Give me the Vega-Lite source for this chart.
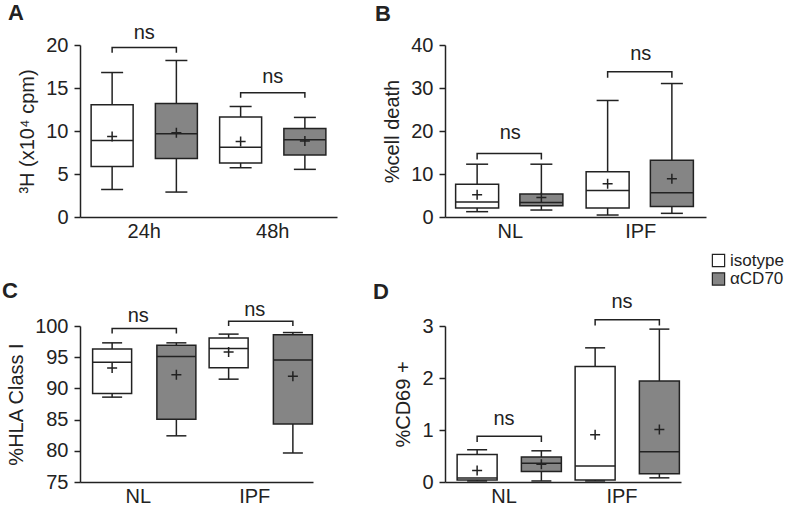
{
  "$schema": "https://vega.github.io/schema/vega-lite/v6.json",
  "padding": {"left": 2, "top": 2, "right": 0, "bottom": 0},
  "background": "white",
  "config": {
    "view": {"stroke": null},
    "font": "Liberation Sans",
    "axis": {"domainColor": "#222222", "domainWidth": 1.5, "tickColor": "#222222", "tickWidth": 1.5, "labelFont": "Liberation Sans", "labelFontSize": 20, "labelColor": "#222222", "titleFont": "Liberation Sans", "titleFontSize": 20, "titleFontWeight": "normal", "titleColor": "#222222", "grid": false, "labelOverlap": false},
    "axisX": {"ticks": false, "labelAngle": 0, "labelPadding": 4, "title": null},
    "axisY": {"tickSize": 6, "labelPadding": 6, "titlePadding": 8, "labelOverlap": false},
    "title": {"anchor": "start", "frame": "group", "fontSize": 22, "fontWeight": "bold", "font": "Liberation Sans", "color": "#222222"},
    "text": {"font": "Liberation Sans", "fontSize": 20, "color": "#222222"}
  },
  "datasets": {
    "boxA": [
      {"cat": "24h", "grp": "isotype", "min": 3.2, "q1": 5.88, "med": 8.9, "q3": 13.06, "max": 16.8, "mean": 9.36},
      {"cat": "24h", "grp": "αCD70", "min": 2.9, "q1": 6.8, "med": 9.67, "q3": 13.2, "max": 18.2, "mean": 9.8},
      {"cat": "48h", "grp": "isotype", "min": 5.73, "q1": 6.28, "med": 8.11, "q3": 11.64, "max": 12.85, "mean": 8.78},
      {"cat": "48h", "grp": "αCD70", "min": 5.54, "q1": 7.21, "med": 8.97, "q3": 10.29, "max": 11.58, "mean": 8.85}
    ],
    "brA": [
      {"cat": "24h", "grp": "isotype", "ord": 1, "y": 19.1},
      {"cat": "24h", "grp": "isotype", "ord": 2, "y": 19.7},
      {"cat": "24h", "grp": "αCD70", "ord": 3, "y": 19.7},
      {"cat": "24h", "grp": "αCD70", "ord": 4, "y": 19.1},
      {"cat": "48h", "grp": "isotype", "ord": 1, "y": 13.87},
      {"cat": "48h", "grp": "isotype", "ord": 2, "y": 14.45},
      {"cat": "48h", "grp": "αCD70", "ord": 3, "y": 14.45},
      {"cat": "48h", "grp": "αCD70", "ord": 4, "y": 13.87}
    ],
    "nsA": [{"cat": "24h", "y": 21.4, "label": "ns"}, {"cat": "48h", "y": 16.3, "label": "ns"}],
    "boxB": [
      {"cat": "NL", "grp": "isotype", "min": 1.24, "q1": 2.08, "med": 3.47, "q3": 7.64, "max": 12.28, "mean": 5.17},
      {"cat": "NL", "grp": "αCD70", "min": 1.62, "q1": 2.63, "med": 3.4, "q3": 5.33, "max": 12.28, "mean": 4.56},
      {"cat": "IPF", "grp": "isotype", "min": 0.46, "q1": 2.08, "med": 6.18, "q3": 10.5, "max": 27.1, "mean": 7.72},
      {"cat": "IPF", "grp": "αCD70", "min": 0.85, "q1": 2.47, "med": 5.64, "q3": 13.2, "max": 31.04, "mean": 8.88}
    ],
    "brB": [
      {"cat": "NL", "grp": "isotype", "ord": 1, "y": 13.36},
      {"cat": "NL", "grp": "isotype", "ord": 2, "y": 14.75},
      {"cat": "NL", "grp": "αCD70", "ord": 3, "y": 14.75},
      {"cat": "NL", "grp": "αCD70", "ord": 4, "y": 13.36},
      {"cat": "IPF", "grp": "isotype", "ord": 1, "y": 32.4},
      {"cat": "IPF", "grp": "isotype", "ord": 2, "y": 33.8},
      {"cat": "IPF", "grp": "αCD70", "ord": 3, "y": 33.8},
      {"cat": "IPF", "grp": "αCD70", "ord": 4, "y": 32.4}
    ],
    "nsB": [{"cat": "NL", "y": 19.5, "label": "ns"}, {"cat": "IPF", "y": 38, "label": "ns"}],
    "boxC": [
      {"cat": "NL", "grp": "isotype", "min": 88.6, "q1": 89.2, "med": 94.2, "q3": 96.33, "max": 97.3, "mean": 93.25},
      {"cat": "NL", "grp": "αCD70", "min": 82.4, "q1": 85.04, "med": 95.1, "q3": 96.9, "max": 97.3, "mean": 92.2},
      {"cat": "IPF", "grp": "isotype", "min": 91.48, "q1": 93.3, "med": 96.4, "q3": 98.06, "max": 98.7, "mean": 95.85},
      {"cat": "IPF", "grp": "αCD70", "min": 79.65, "q1": 84.3, "med": 94.56, "q3": 98.6, "max": 98.95, "mean": 91.95}
    ],
    "brC": [
      {"cat": "NL", "grp": "isotype", "ord": 1, "y": 98.8},
      {"cat": "NL", "grp": "isotype", "ord": 2, "y": 99.6},
      {"cat": "NL", "grp": "αCD70", "ord": 3, "y": 99.6},
      {"cat": "NL", "grp": "αCD70", "ord": 4, "y": 98.8},
      {"cat": "IPF", "grp": "isotype", "ord": 1, "y": 100.0},
      {"cat": "IPF", "grp": "isotype", "ord": 2, "y": 100.77},
      {"cat": "IPF", "grp": "αCD70", "ord": 3, "y": 100.77},
      {"cat": "IPF", "grp": "αCD70", "ord": 4, "y": 100.0}
    ],
    "nsC": [{"cat": "NL", "y": 101.6, "label": "ns"}, {"cat": "IPF", "y": 102.6, "label": "ns"}],
    "boxD": [
      {"cat": "NL", "grp": "isotype", "min": 0.02, "q1": 0.04, "med": 0.077, "q3": 0.53, "max": 0.62, "mean": 0.22},
      {"cat": "NL", "grp": "αCD70", "min": 0.02, "q1": 0.2, "med": 0.36, "q3": 0.48, "max": 0.6, "mean": 0.34},
      {"cat": "IPF", "grp": "isotype", "min": 0.02, "q1": 0.04, "med": 0.31, "q3": 2.22, "max": 2.58, "mean": 0.91},
      {"cat": "IPF", "grp": "αCD70", "min": 0.08, "q1": 0.16, "med": 0.58, "q3": 1.94, "max": 2.94, "mean": 1.01}
    ],
    "brD": [
      {"cat": "NL", "grp": "isotype", "ord": 1, "y": 0.77},
      {"cat": "NL", "grp": "isotype", "ord": 2, "y": 0.88},
      {"cat": "NL", "grp": "αCD70", "ord": 3, "y": 0.88},
      {"cat": "NL", "grp": "αCD70", "ord": 4, "y": 0.77},
      {"cat": "IPF", "grp": "isotype", "ord": 1, "y": 3.01},
      {"cat": "IPF", "grp": "isotype", "ord": 2, "y": 3.12},
      {"cat": "IPF", "grp": "αCD70", "ord": 3, "y": 3.12},
      {"cat": "IPF", "grp": "αCD70", "ord": 4, "y": 3.01}
    ],
    "nsD": [{"cat": "NL", "y": 1.22, "label": "ns"}, {"cat": "IPF", "y": 3.46, "label": "ns"}]
  },
  "columns": 2,
  "bounds": "flush",
  "align": "each",
  "spacing": {"row": 109, "column": 108},
  "concat": [
    {
      "width": 257, "height": 172,
      "title": {"text": "A", "dx": -72, "offset": -2.5},
      "encoding": {"x": {"field": "cat", "type": "nominal", "sort": ["24h", "48h"], "scale": {"paddingInner": 0, "paddingOuter": 0}}},
      "layer": [
        {"data": {"name": "boxA"}, "mark": {"type": "rule", "color": "#222222", "strokeWidth": 1.5},
          "encoding": {"xOffset": {"field": "grp", "type": "nominal", "sort": ["isotype", "αCD70"], "scale": {"paddingInner": 0, "paddingOuter": 0}},
            "y": {"field": "min", "type": "quantitative", "title": "³H (x10⁴ cpm)", "scale": {"domain": [0, 20], "nice": false}, "axis": {"values": [0, 5, 10, 15, 20], "labelOverlap": false}},
            "y2": {"field": "max"}}},
        {"data": {"name": "boxA"}, "mark": {"type": "bar", "width": 42, "stroke": "#222222", "strokeWidth": 1.5},
          "encoding": {"xOffset": {"field": "grp", "type": "nominal", "sort": ["isotype", "αCD70"]},
            "y": {"field": "q1", "type": "quantitative", "title": "³H (x10⁴ cpm)"}, "y2": {"field": "q3"},
            "fill": {"field": "grp", "type": "nominal", "scale": {"domain": ["isotype", "αCD70"], "range": ["#ffffff", "#858585"]}, "legend": {"title": null, "orient": "none", "legendX": 630, "legendY": 207, "symbolType": "square", "symbolSize": 150, "symbolStrokeColor": "#222222", "symbolStrokeWidth": 1.2, "labelFontSize": 17, "labelFont": "Liberation Sans", "labelColor": "#222222", "rowPadding": -0.5, "labelOffset": 3}}}},
        {"data": {"name": "boxA"}, "mark": {"type": "tick", "size": 42, "thickness": 1.5, "color": "#222222", "opacity": 1},
          "encoding": {"xOffset": {"field": "grp", "type": "nominal", "sort": ["isotype", "αCD70"]}, "y": {"field": "med", "type": "quantitative", "title": "³H (x10⁴ cpm)"}}},
        {"data": {"name": "boxA"}, "mark": {"type": "tick", "size": 22, "thickness": 1.5, "color": "#222222", "opacity": 1},
          "encoding": {"xOffset": {"field": "grp", "type": "nominal", "sort": ["isotype", "αCD70"]}, "y": {"field": "min", "type": "quantitative", "title": "³H (x10⁴ cpm)"}}},
        {"data": {"name": "boxA"}, "mark": {"type": "tick", "size": 22, "thickness": 1.5, "color": "#222222", "opacity": 1},
          "encoding": {"xOffset": {"field": "grp", "type": "nominal", "sort": ["isotype", "αCD70"]}, "y": {"field": "max", "type": "quantitative", "title": "³H (x10⁴ cpm)"}}},
        {"data": {"name": "boxA"}, "mark": {"type": "point", "shape": "M-1,0L1,0M0,-1L0,1", "size": 100, "filled": false, "stroke": "#222222", "strokeWidth": 1.5, "opacity": 1},
          "encoding": {"xOffset": {"field": "grp", "type": "nominal", "sort": ["isotype", "αCD70"]}, "y": {"field": "mean", "type": "quantitative", "title": "³H (x10⁴ cpm)"}}},
        {"data": {"name": "brA"}, "mark": {"type": "line", "color": "#222222", "strokeWidth": 1.5},
          "encoding": {"xOffset": {"field": "grp", "type": "nominal", "sort": ["isotype", "αCD70"]}, "y": {"field": "y", "type": "quantitative", "title": "³H (x10⁴ cpm)"}, "detail": {"field": "cat"}, "order": {"field": "ord"}}},
        {"data": {"name": "nsA"}, "mark": {"type": "text", "baseline": "middle"},
          "encoding": {"y": {"field": "y", "type": "quantitative", "title": "³H (x10⁴ cpm)"}, "text": {"field": "label"}}}
      ]
    },
    {
      "width": 261, "height": 172,
      "title": {"text": "B", "dx": -70, "offset": 9},
      "encoding": {"x": {"field": "cat", "type": "nominal", "sort": ["NL", "IPF"], "scale": {"paddingInner": 0, "paddingOuter": 0}}},
      "layer": [
        {"data": {"name": "boxB"}, "mark": {"type": "rule", "color": "#222222", "strokeWidth": 1.5},
          "encoding": {"xOffset": {"field": "grp", "type": "nominal", "sort": ["isotype", "αCD70"], "scale": {"paddingInner": 0, "paddingOuter": 0}},
            "y": {"field": "min", "type": "quantitative", "title": "%cell death", "scale": {"domain": [0, 40], "nice": false}, "axis": {"values": [0, 10, 20, 30, 40], "labelOverlap": false}},
            "y2": {"field": "max"}}},
        {"data": {"name": "boxB"}, "mark": {"type": "bar", "width": 43, "stroke": "#222222", "strokeWidth": 1.5},
          "encoding": {"xOffset": {"field": "grp", "type": "nominal", "sort": ["isotype", "αCD70"]},
            "y": {"field": "q1", "type": "quantitative", "title": "%cell death"}, "y2": {"field": "q3"},
            "fill": {"field": "grp", "type": "nominal", "scale": {"domain": ["isotype", "αCD70"], "range": ["#ffffff", "#858585"]}, "legend": {"title": null, "orient": "none", "legendX": 630, "legendY": 207, "symbolType": "square", "symbolSize": 150, "symbolStrokeColor": "#222222", "symbolStrokeWidth": 1.2, "labelFontSize": 17, "labelFont": "Liberation Sans", "labelColor": "#222222", "rowPadding": -0.5, "labelOffset": 3}}}},
        {"data": {"name": "boxB"}, "mark": {"type": "tick", "size": 43, "thickness": 1.5, "color": "#222222", "opacity": 1},
          "encoding": {"xOffset": {"field": "grp", "type": "nominal", "sort": ["isotype", "αCD70"]}, "y": {"field": "med", "type": "quantitative", "title": "%cell death"}}},
        {"data": {"name": "boxB"}, "mark": {"type": "tick", "size": 22, "thickness": 1.5, "color": "#222222", "opacity": 1},
          "encoding": {"xOffset": {"field": "grp", "type": "nominal", "sort": ["isotype", "αCD70"]}, "y": {"field": "min", "type": "quantitative", "title": "%cell death"}}},
        {"data": {"name": "boxB"}, "mark": {"type": "tick", "size": 22, "thickness": 1.5, "color": "#222222", "opacity": 1},
          "encoding": {"xOffset": {"field": "grp", "type": "nominal", "sort": ["isotype", "αCD70"]}, "y": {"field": "max", "type": "quantitative", "title": "%cell death"}}},
        {"data": {"name": "boxB"}, "mark": {"type": "point", "shape": "M-1,0L1,0M0,-1L0,1", "size": 100, "filled": false, "stroke": "#222222", "strokeWidth": 1.5, "opacity": 1},
          "encoding": {"xOffset": {"field": "grp", "type": "nominal", "sort": ["isotype", "αCD70"]}, "y": {"field": "mean", "type": "quantitative", "title": "%cell death"}}},
        {"data": {"name": "brB"}, "mark": {"type": "line", "color": "#222222", "strokeWidth": 1.5},
          "encoding": {"xOffset": {"field": "grp", "type": "nominal", "sort": ["isotype", "αCD70"]}, "y": {"field": "y", "type": "quantitative", "title": "%cell death"}, "detail": {"field": "cat"}, "order": {"field": "ord"}}},
        {"data": {"name": "nsB"}, "mark": {"type": "text", "baseline": "middle"},
          "encoding": {"y": {"field": "y", "type": "quantitative", "title": "%cell death"}, "text": {"field": "label"}}}
      ]
    },
    {
      "width": 233, "height": 156,
      "title": {"text": "C", "dx": -78, "offset": -3},
      "encoding": {"x": {"field": "cat", "type": "nominal", "sort": ["NL", "IPF"], "scale": {"paddingInner": 0, "paddingOuter": 0}}},
      "layer": [
        {"data": {"name": "boxC"}, "mark": {"type": "rule", "color": "#222222", "strokeWidth": 1.5},
          "encoding": {"xOffset": {"field": "grp", "type": "nominal", "sort": ["isotype", "αCD70"], "scale": {"paddingInner": 0, "paddingOuter": 0}},
            "y": {"field": "min", "type": "quantitative", "title": "%HLA Class I", "scale": {"domain": [75, 100], "nice": false, "zero": false}, "axis": {"values": [75, 80, 85, 90, 95, 100], "labelOverlap": false, "tickCount": 6}},
            "y2": {"field": "max"}}},
        {"data": {"name": "boxC"}, "mark": {"type": "bar", "width": 39, "stroke": "#222222", "strokeWidth": 1.5},
          "encoding": {"xOffset": {"field": "grp", "type": "nominal", "sort": ["isotype", "αCD70"]},
            "y": {"field": "q1", "type": "quantitative", "title": "%HLA Class I"}, "y2": {"field": "q3"},
            "fill": {"field": "grp", "type": "nominal", "scale": {"domain": ["isotype", "αCD70"], "range": ["#ffffff", "#858585"]}, "legend": {"title": null, "orient": "none", "legendX": 630, "legendY": 207, "symbolType": "square", "symbolSize": 150, "symbolStrokeColor": "#222222", "symbolStrokeWidth": 1.2, "labelFontSize": 17, "labelFont": "Liberation Sans", "labelColor": "#222222", "rowPadding": -0.5, "labelOffset": 3}}}},
        {"data": {"name": "boxC"}, "mark": {"type": "tick", "size": 39, "thickness": 1.5, "color": "#222222", "opacity": 1},
          "encoding": {"xOffset": {"field": "grp", "type": "nominal", "sort": ["isotype", "αCD70"]}, "y": {"field": "med", "type": "quantitative", "title": "%HLA Class I"}}},
        {"data": {"name": "boxC"}, "mark": {"type": "tick", "size": 20, "thickness": 1.5, "color": "#222222", "opacity": 1},
          "encoding": {"xOffset": {"field": "grp", "type": "nominal", "sort": ["isotype", "αCD70"]}, "y": {"field": "min", "type": "quantitative", "title": "%HLA Class I"}}},
        {"data": {"name": "boxC"}, "mark": {"type": "tick", "size": 20, "thickness": 1.5, "color": "#222222", "opacity": 1},
          "encoding": {"xOffset": {"field": "grp", "type": "nominal", "sort": ["isotype", "αCD70"]}, "y": {"field": "max", "type": "quantitative", "title": "%HLA Class I"}}},
        {"data": {"name": "boxC"}, "mark": {"type": "point", "shape": "M-1,0L1,0M0,-1L0,1", "size": 100, "filled": false, "stroke": "#222222", "strokeWidth": 1.5, "opacity": 1},
          "encoding": {"xOffset": {"field": "grp", "type": "nominal", "sort": ["isotype", "αCD70"]}, "y": {"field": "mean", "type": "quantitative", "title": "%HLA Class I"}}},
        {"data": {"name": "brC"}, "mark": {"type": "line", "color": "#222222", "strokeWidth": 1.5},
          "encoding": {"xOffset": {"field": "grp", "type": "nominal", "sort": ["isotype", "αCD70"]}, "y": {"field": "y", "type": "quantitative", "title": "%HLA Class I"}, "detail": {"field": "cat"}, "order": {"field": "ord"}}},
        {"data": {"name": "nsC"}, "mark": {"type": "text", "baseline": "middle"},
          "encoding": {"y": {"field": "y", "type": "quantitative", "title": "%HLA Class I"}, "text": {"field": "label"}}}
      ]
    },
    {
      "width": 236, "height": 156,
      "title": {"text": "D", "dx": -72, "offset": -12},
      "encoding": {"x": {"field": "cat", "type": "nominal", "sort": ["NL", "IPF"], "scale": {"paddingInner": 0, "paddingOuter": 0}}},
      "layer": [
        {"data": {"name": "boxD"}, "mark": {"type": "rule", "color": "#222222", "strokeWidth": 1.5},
          "encoding": {"xOffset": {"field": "grp", "type": "nominal", "sort": ["isotype", "αCD70"], "scale": {"paddingInner": 0, "paddingOuter": 0}},
            "y": {"field": "min", "type": "quantitative", "title": "%CD69 +", "scale": {"domain": [0, 3], "nice": false}, "axis": {"values": [0, 1, 2, 3], "labelOverlap": false}},
            "y2": {"field": "max"}}},
        {"data": {"name": "boxD"}, "mark": {"type": "bar", "width": 40, "stroke": "#222222", "strokeWidth": 1.5},
          "encoding": {"xOffset": {"field": "grp", "type": "nominal", "sort": ["isotype", "αCD70"]},
            "y": {"field": "q1", "type": "quantitative", "title": "%CD69 +"}, "y2": {"field": "q3"},
            "fill": {"field": "grp", "type": "nominal", "scale": {"domain": ["isotype", "αCD70"], "range": ["#ffffff", "#858585"]}, "legend": {"title": null, "orient": "none", "legendX": 630, "legendY": 207, "symbolType": "square", "symbolSize": 150, "symbolStrokeColor": "#222222", "symbolStrokeWidth": 1.2, "labelFontSize": 17, "labelFont": "Liberation Sans", "labelColor": "#222222", "rowPadding": -0.5, "labelOffset": 3}}}},
        {"data": {"name": "boxD"}, "mark": {"type": "tick", "size": 40, "thickness": 1.5, "color": "#222222", "opacity": 1},
          "encoding": {"xOffset": {"field": "grp", "type": "nominal", "sort": ["isotype", "αCD70"]}, "y": {"field": "med", "type": "quantitative", "title": "%CD69 +"}}},
        {"data": {"name": "boxD"}, "mark": {"type": "tick", "size": 20, "thickness": 1.5, "color": "#222222", "opacity": 1},
          "encoding": {"xOffset": {"field": "grp", "type": "nominal", "sort": ["isotype", "αCD70"]}, "y": {"field": "min", "type": "quantitative", "title": "%CD69 +"}}},
        {"data": {"name": "boxD"}, "mark": {"type": "tick", "size": 20, "thickness": 1.5, "color": "#222222", "opacity": 1},
          "encoding": {"xOffset": {"field": "grp", "type": "nominal", "sort": ["isotype", "αCD70"]}, "y": {"field": "max", "type": "quantitative", "title": "%CD69 +"}}},
        {"data": {"name": "boxD"}, "mark": {"type": "point", "shape": "M-1,0L1,0M0,-1L0,1", "size": 100, "filled": false, "stroke": "#222222", "strokeWidth": 1.5, "opacity": 1},
          "encoding": {"xOffset": {"field": "grp", "type": "nominal", "sort": ["isotype", "αCD70"]}, "y": {"field": "mean", "type": "quantitative", "title": "%CD69 +"}}},
        {"data": {"name": "brD"}, "mark": {"type": "line", "color": "#222222", "strokeWidth": 1.5},
          "encoding": {"xOffset": {"field": "grp", "type": "nominal", "sort": ["isotype", "αCD70"]}, "y": {"field": "y", "type": "quantitative", "title": "%CD69 +"}, "detail": {"field": "cat"}, "order": {"field": "ord"}}},
        {"data": {"name": "nsD"}, "mark": {"type": "text", "baseline": "middle"},
          "encoding": {"y": {"field": "y", "type": "quantitative", "title": "%CD69 +"}, "text": {"field": "label"}}}
      ]
    }
  ]
}
